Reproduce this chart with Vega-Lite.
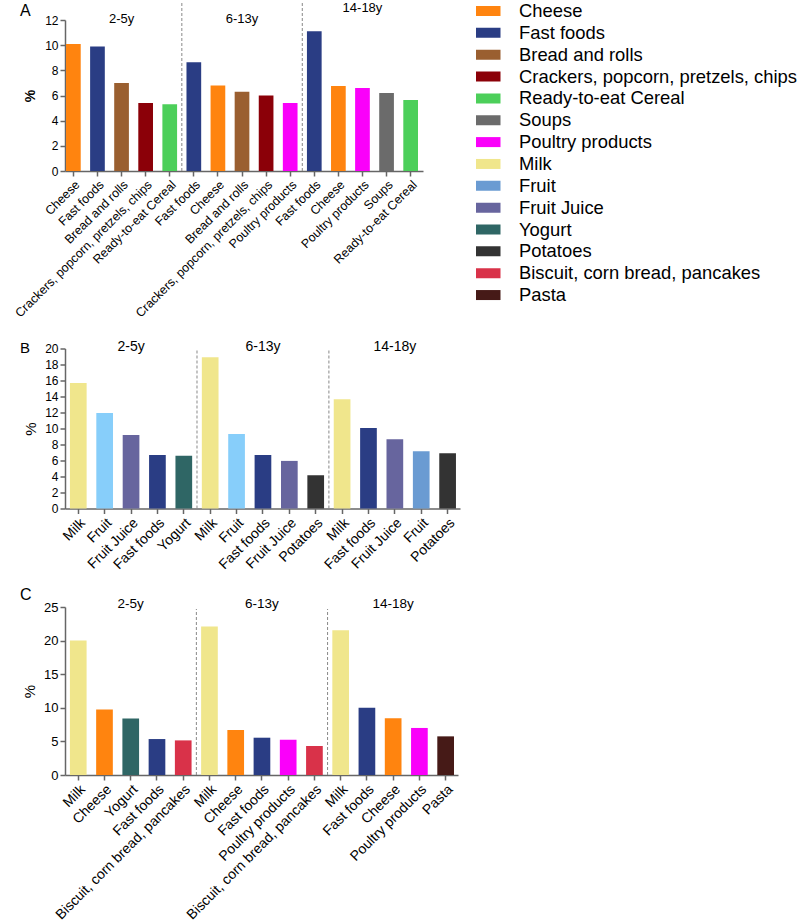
{
  "$schema": "https://vega.github.io/schema/vega-lite/v6.json",
  "padding": {"left": 12, "top": 0, "right": 0, "bottom": 0},
  "config": {
    "font": "Liberation Sans",
    "view": {"stroke": null},
    "axis": {"domainColor": "#666666", "tickColor": "#666666", "domainWidth": 1.5, "tickWidth": 1.5, "tickSize": 5, "labelColor": "#000000", "grid": false, "labelLimit": 400, "titleColor": "#000000", "labelOverlap": false},
    "title": {"color": "#000000", "fontWeight": "normal"}
  },
  "datasets": {
    "A": [
      {"age": "2-5y", "food": "Cheese", "pct": 10.1},
      {"age": "2-5y", "food": "Fast foods", "pct": 9.9},
      {"age": "2-5y", "food": "Bread and rolls", "pct": 7.0},
      {"age": "2-5y", "food": "Crackers, popcorn, pretzels, chips", "pct": 5.4},
      {"age": "2-5y", "food": "Ready-to-eat Cereal", "pct": 5.3},
      {"age": "6-13y", "food": "Fast foods", "pct": 8.65},
      {"age": "6-13y", "food": "Cheese", "pct": 6.8},
      {"age": "6-13y", "food": "Bread and rolls", "pct": 6.3},
      {"age": "6-13y", "food": "Crackers, popcorn, pretzels, chips", "pct": 6.0},
      {"age": "6-13y", "food": "Poultry products", "pct": 5.4},
      {"age": "14-18y", "food": "Fast foods", "pct": 11.1},
      {"age": "14-18y", "food": "Cheese", "pct": 6.75},
      {"age": "14-18y", "food": "Poultry products", "pct": 6.6},
      {"age": "14-18y", "food": "Soups", "pct": 6.2},
      {"age": "14-18y", "food": "Ready-to-eat Cereal", "pct": 5.65}
    ],
    "B": [
      {"age": "2-5y", "food": "Milk", "pct": 15.7},
      {"age": "2-5y", "food": "Fruit", "pct": 11.95},
      {"age": "2-5y", "food": "Fruit Juice", "pct": 9.2},
      {"age": "2-5y", "food": "Fast foods", "pct": 6.7},
      {"age": "2-5y", "food": "Yogurt", "pct": 6.6},
      {"age": "6-13y", "food": "Milk", "pct": 18.9},
      {"age": "6-13y", "food": "Fruit", "pct": 9.3},
      {"age": "6-13y", "food": "Fast foods", "pct": 6.7},
      {"age": "6-13y", "food": "Fruit Juice", "pct": 5.95},
      {"age": "6-13y", "food": "Potatoes", "pct": 4.15},
      {"age": "14-18y", "food": "Milk", "pct": 13.65},
      {"age": "14-18y", "food": "Fast foods", "pct": 10.05},
      {"age": "14-18y", "food": "Fruit Juice", "pct": 8.65},
      {"age": "14-18y", "food": "Fruit", "pct": 7.15},
      {"age": "14-18y", "food": "Potatoes", "pct": 6.9}
    ],
    "C": [
      {"age": "2-5y", "food": "Milk", "pct": 20.0},
      {"age": "2-5y", "food": "Cheese", "pct": 9.75},
      {"age": "2-5y", "food": "Yogurt", "pct": 8.4},
      {"age": "2-5y", "food": "Fast foods", "pct": 5.35},
      {"age": "2-5y", "food": "Biscuit, corn bread, pancakes", "pct": 5.15},
      {"age": "6-13y", "food": "Milk", "pct": 22.1},
      {"age": "6-13y", "food": "Cheese", "pct": 6.7},
      {"age": "6-13y", "food": "Fast foods", "pct": 5.55},
      {"age": "6-13y", "food": "Poultry products", "pct": 5.25},
      {"age": "6-13y", "food": "Biscuit, corn bread, pancakes", "pct": 4.3},
      {"age": "14-18y", "food": "Milk", "pct": 21.55},
      {"age": "14-18y", "food": "Fast foods", "pct": 10.0},
      {"age": "14-18y", "food": "Cheese", "pct": 8.45},
      {"age": "14-18y", "food": "Poultry products", "pct": 7.0},
      {"age": "14-18y", "food": "Pasta", "pct": 5.75}
    ]
  },
  "spacing": 14.5,
  "resolve": {"scale": {"color": "shared"}},
  "vconcat": [
    {
      "width": 358,
      "height": 151,
      "title": {"text": "A", "anchor": "start", "frame": "group", "dx": -45, "fontSize": 16, "offset": -18},
      "data": {"name": "A"},
      "transform": [
        {"calculate": "datum.age + '|' + datum.food", "as": "key"},
        {"window": [{"op": "row_number", "as": "rank"}], "groupby": ["age"]}
      ],
      "layer": [
        {
          "mark": {"type": "bar"},
          "encoding": {
            "x": {"field": "key", "type": "nominal", "sort": null,
              "scale": {"paddingInner": 0.39, "paddingOuter": 0.125, "align": 0.17},
              "axis": {"title": " ", "titleFontSize": 5, "titlePadding": 0, "labelAngle": -45, "labelFontSize": 12.4, "labelExpr": "split(datum.label, '|')[1]", "labelPadding": 2}},
            "y": {"field": "pct", "type": "quantitative", "scale": {"domain": [0, 12], "nice": false},
              "axis": {"values": [0, 2, 4, 6, 8, 10, 12], "tickCount": 50, "format": "d", "labelOverlap": false, "title": "%", "titleFontWeight": "bold", "titleFontSize": 14, "labelFontSize": 12, "titlePadding": 7, "labelPadding": 2}},
            "color": {
              "condition": {"test": "datum.food === 'Fruit' && datum.age !== '14-18y'", "value": "#87CEFA"},
              "field": "food", "type": "nominal",
              "scale": {
                "domain": ["Cheese", "Fast foods", "Bread and rolls", "Crackers, popcorn, pretzels, chips", "Ready-to-eat Cereal", "Soups", "Poultry products", "Milk", "Fruit", "Fruit Juice", "Yogurt", "Potatoes", "Biscuit, corn bread, pancakes", "Pasta"],
                "range": ["#FF840F", "#2A3D84", "#9A5F30", "#8B0008", "#4CCF5A", "#6B6B6B", "#FA00FA", "#F0E68C", "#6A9BD2", "#67659E", "#2F6665", "#333333", "#D93249", "#461A17"]
              },
              "legend": {"title": null, "orient": "none", "legendX": 411, "legendY": -19, "symbolType": "M-1.45,-0.5H1.45V0.5H-1.45Z", "symbolSize": 400, "symbolStrokeWidth": 0, "labelFontSize": 18.4, "labelOffset": 23, "rowPadding": 1.85, "clipHeight": 20, "labelColor": "#000000", "labelLimit": 400, "padding": 0}
            }
          }
        },
        {
          "transform": [{"filter": "datum.rank == 1 && datum.age != '2-5y'"}],
          "mark": {"type": "rule", "xOffset": -12, "strokeDash": [3, 2], "color": "#888888", "strokeWidth": 1},
          "encoding": {
            "x": {"field": "key", "type": "nominal", "sort": null},
            "y": {"datum": 0},
            "y2": {"datum": 13.5}
          }
        },
        {
          "transform": [{"filter": "datum.rank == 3 && datum.age != '14-18y'"}],
          "mark": {"type": "text", "fontSize": 13, "baseline": "middle"},
          "encoding": {
            "x": {"field": "key", "type": "nominal", "sort": null},
            "y": {"datum": 12.05},
            "text": {"field": "age"}
          }
        },
        {
          "transform": [{"filter": "datum.rank == 3 && datum.age == '14-18y'"}],
          "mark": {"type": "text", "fontSize": 13, "baseline": "middle"},
          "encoding": {
            "x": {"field": "key", "type": "nominal", "sort": null},
            "y": {"datum": 12.95},
            "text": {"field": "age"}
          }
        }
      ]
    },
    {
      "width": 395,
      "height": 160,
      "title": {"text": "B", "anchor": "start", "frame": "group", "dx": -45, "fontSize": 15, "offset": -16},
      "data": {"name": "B"},
      "transform": [
        {"calculate": "datum.age + '|' + datum.food", "as": "key"},
        {"window": [{"op": "row_number", "as": "rank"}], "groupby": ["age"]}
      ],
      "layer": [
        {
          "mark": {"type": "bar"},
          "encoding": {
            "x": {"field": "key", "type": "nominal", "sort": null,
              "scale": {"paddingInner": 0.367, "paddingOuter": 0.17, "align": 0.55},
              "axis": {"title": null, "labelAngle": -45, "labelFontSize": 14, "labelExpr": "split(datum.label, '|')[1]", "labelPadding": 2}},
            "y": {"field": "pct", "type": "quantitative", "scale": {"domain": [0, 20], "nice": false},
              "axis": {"values": [0, 2, 4, 6, 8, 10, 12, 14, 16, 18, 20], "tickCount": 50, "format": "d", "labelOverlap": false, "title": "%", "titleFontWeight": "normal", "titleFontSize": 15, "labelFontSize": 12, "titlePadding": 6, "labelPadding": 2}},
            "color": {
              "condition": {"test": "datum.food === 'Fruit' && datum.age !== '14-18y'", "value": "#87CEFA"},
              "field": "food", "type": "nominal"
            }
          }
        },
        {
          "transform": [{"filter": "datum.rank == 1 && datum.age != '2-5y'"}],
          "mark": {"type": "rule", "xOffset": -13.2, "strokeDash": [3, 2], "color": "#888888", "strokeWidth": 1},
          "encoding": {
            "x": {"field": "key", "type": "nominal", "sort": null},
            "y": {"datum": 0},
            "y2": {"datum": 19.9}
          }
        },
        {
          "transform": [{"filter": "datum.rank == 3"}],
          "mark": {"type": "text", "fontSize": 14, "baseline": "middle"},
          "encoding": {
            "x": {"field": "key", "type": "nominal", "sort": null},
            "y": {"datum": 20.2},
            "text": {"field": "age"}
          }
        }
      ]
    },
    {
      "width": 393,
      "height": 168,
      "title": {"text": "C", "anchor": "start", "frame": "group", "dx": -45, "fontSize": 16, "offset": -6},
      "data": {"name": "C"},
      "transform": [
        {"calculate": "datum.age + '|' + datum.food", "as": "key"},
        {"window": [{"op": "row_number", "as": "rank"}], "groupby": ["age"]}
      ],
      "layer": [
        {
          "mark": {"type": "bar"},
          "encoding": {
            "x": {"field": "key", "type": "nominal", "sort": null,
              "scale": {"paddingInner": 0.364, "paddingOuter": 0.17, "align": 0.55},
              "axis": {"title": null, "labelAngle": -45, "labelFontSize": 14, "labelExpr": "split(datum.label, '|')[1]", "labelPadding": 2}},
            "y": {"field": "pct", "type": "quantitative", "scale": {"domain": [0, 25], "nice": false},
              "axis": {"values": [0, 5, 10, 15, 20, 25], "tickCount": 50, "format": "d", "labelOverlap": false, "title": "%", "titleFontWeight": "normal", "titleFontSize": 15, "labelFontSize": 13, "titlePadding": 6, "labelPadding": 2}},
            "color": {
              "condition": {"test": "datum.food === 'Fruit' && datum.age !== '14-18y'", "value": "#87CEFA"},
              "field": "food", "type": "nominal"
            }
          }
        },
        {
          "transform": [{"filter": "datum.rank == 1 && datum.age != '2-5y'"}],
          "mark": {"type": "rule", "xOffset": -13.1, "strokeDash": [3, 2], "color": "#888888", "strokeWidth": 1},
          "encoding": {
            "x": {"field": "key", "type": "nominal", "sort": null},
            "y": {"datum": 0},
            "y2": {"datum": 24.7}
          }
        },
        {
          "transform": [{"filter": "datum.rank == 3"}],
          "mark": {"type": "text", "fontSize": 13.5, "baseline": "middle"},
          "encoding": {
            "x": {"field": "key", "type": "nominal", "sort": null},
            "y": {"datum": 25.4},
            "text": {"field": "age"}
          }
        }
      ]
    }
  ]
}
